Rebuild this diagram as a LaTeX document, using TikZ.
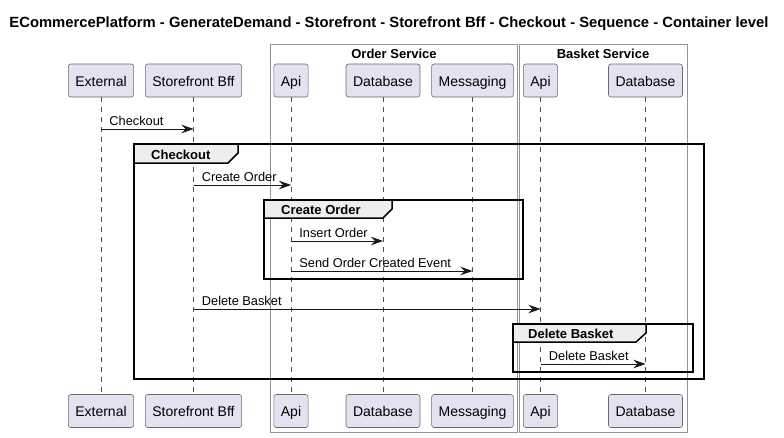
\documentclass[tikz,border=0pt]{standalone}
\usepackage{fontspec}
\setmainfont{Liberation Sans}
\usetikzlibrary{arrows.meta}
\definecolor{partfill}{HTML}{E2E2F0}
\definecolor{tabfill}{HTML}{EEEEEE}
\definecolor{lineclr}{HTML}{181818}

\begin{document}
\begin{tikzpicture}[x=1pt, y=-1pt,
    part/.style={draw=lineclr!65, fill=partfill, rounded corners=2.5pt, minimum height=33pt,
      inner xsep=7pt, text height=11.5pt, text depth=0.5pt, line width=0.6pt,
      font=\fontsize{14}{16}\selectfont},
    life/.style={draw=lineclr!75, line width=0.5pt, dash pattern=on 5pt off 5pt},
    msg/.style={draw=lineclr, line width=0.8pt, -{Stealth[length=12pt,width=8.5pt,inset=4pt]}},
    msglabel/.style={anchor=base west, inner sep=0pt, xshift=8pt, yshift=4pt,
      font=\fontsize{12.8}{15}\selectfont},
    frame/.style={draw=black, line width=1.5pt},
    framelabel/.style={anchor=base west, inner sep=0pt, font=\bfseries\fontsize{13}{15}\selectfont},
    svcbox/.style={draw=gray!85, line width=0.8pt},
    svclabel/.style={anchor=base, inner sep=0pt, font=\bfseries\fontsize{13}{15}\selectfont}]

    \useasboundingbox (0,0) rectangle (784,437);

    % Title
    \node[anchor=base, inner sep=0pt, font=\bfseries\fontsize{14.8}{17}\selectfont] (title) at (389,27)
      {ECommercePlatform - GenerateDemand - Storefront - Storefront Bff - Checkout - Sequence - Container level};

    % Service boxes
    \draw[svcbox] (270,44) rectangle (517,432);
    \draw[svcbox] (519,44) rectangle (687,432);
    \node[svclabel] (orderSvc) at (394,58) {Order Service};
    \node[svclabel] (basketSvc) at (603,58) {Basket Service};

    % Participants (top)
    \node[part] (ext)  at (101,80.5)   {External};
    \node[part] (bff)  at (193.5,80.5) {Storefront Bff};
    \node[part] (oapi) at (291,80.5)   {Api};
    \node[part] (odb)  at (383,80.5)   {Database};
    \node[part] (omsg) at (472.5,80.5) {Messaging};
    \node[part] (bapi) at (540.5,80.5) {Api};
    \node[part] (bdb)  at (645.5,80.5) {Database};

    % Participants (bottom)
    \node[part] (extB)  at (101,411)   {External};
    \node[part] (bffB)  at (193.5,411) {Storefront Bff};
    \node[part] (oapiB) at (291,411)   {Api};
    \node[part] (odbB)  at (383,411)   {Database};
    \node[part] (omsgB) at (472.5,411) {Messaging};
    \node[part] (bapiB) at (540.5,411) {Api};
    \node[part] (bdbB)  at (645.5,411) {Database};

    % Lifelines
    \draw[life] (ext) -- (extB);
    \draw[life] (bff) -- (bffB);
    \draw[life] (oapi) -- (oapiB);
    \draw[life] (odb) -- (odbB);
    \draw[life] (omsg) -- (omsgB);
    \draw[life] (bapi) -- (bapiB);
    \draw[life] (bdb) -- (bdbB);

    % Frame: Checkout
    \draw[frame] (134,144) rectangle (704,379);
    \draw[frame, fill=tabfill] (134,144) -- (238,144) -- (238,153) -- (228,163) -- (134,163) -- cycle;
    \node[framelabel] (fCheckout) at (151,159) {Checkout};

    % Frame: Create Order
    \draw[frame] (264,200) rectangle (523,279);
    \draw[frame, fill=tabfill] (264,200) -- (392,200) -- (392,209) -- (383,218) -- (264,218) -- cycle;
    \node[framelabel] (fCreateOrder) at (281,214) {Create Order};

    % Frame: Delete Basket
    \draw[frame] (513,324) rectangle (693,372);
    \draw[frame, fill=tabfill] (513,324) -- (646,324) -- (646,333) -- (636,342) -- (513,342) -- cycle;
    \node[framelabel] (fDeleteBasket) at (528,338) {Delete Basket};

    % Messages
    \draw[msg] (ext |- 0,129) -- (bff |- 0,129) node[msglabel, pos=0] (lCheckout) {Checkout};
    \draw[msg] (bff |- 0,185) -- (oapi |- 0,185) node[msglabel, pos=0] (lCreateOrder) {Create Order};
    \draw[msg] (oapi |- 0,241) -- (odb |- 0,241) node[msglabel, pos=0] (lInsertOrder) {Insert Order};
    \draw[msg] (oapi |- 0,271) -- (omsg |- 0,271) node[msglabel, pos=0] (lSendEvent) {Send Order Created Event};
    \draw[msg] (bff |- 0,309) -- (bapi |- 0,309) node[msglabel, pos=0] (lDeleteBasket) {Delete Basket};
    \draw[msg] (bapi |- 0,364) -- (bdb |- 0,364) node[msglabel, pos=0] (lDeleteBasketDb) {Delete Basket};

\end{tikzpicture}
\end{document}
